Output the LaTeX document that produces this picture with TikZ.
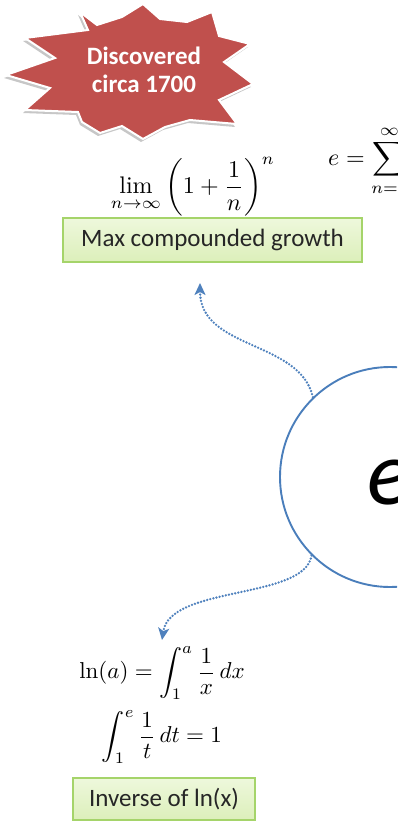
\documentclass[tikz,border=0pt]{standalone}
\usepackage{fontspec}
\usepackage{amsmath}
\usepackage{graphicx}
\newfontfamily\calibri{Carlito}
\usetikzlibrary{arrows.meta}

\definecolor{burstred}{HTML}{C0504D}
\definecolor{ringblue}{HTML}{4A7EBB}
\definecolor{dotblue}{HTML}{4F81BD}
\definecolor{tagtop}{HTML}{EEF8DC}
\definecolor{tagbottom}{HTML}{DCEFBA}
\definecolor{tagline}{HTML}{A5D46A}

\begin{document}
\begin{tikzpicture}[x=1pt,y=-1pt,
  tag/.style={draw=tagline, line width=1.2pt, top color=tagtop, bottom color=tagbottom,
    inner sep=0pt, text=black!85, font=\calibri\fontsize{25}{28}\selectfont},
  formula/.style={inner sep=0pt},
  link/.style={dotblue, line width=2.6pt, line cap=round, dash pattern=on 0pt off 3.2pt,
    -{Stealth[length=12pt,width=11pt,inset=3pt]}},
  burstpath/.style={line join=miter}
]
\useasboundingbox (0,0) rectangle (397,821);
\clip (0,0) rectangle (397,821);

% explosion badge: soft shadow, then the red burst with a white rim
\fill[black, opacity=0.22, xshift=-2pt, yshift=-3pt]
  (143,4) -- (160,19) -- (187,22) -- (212,12) -- (219,36) -- (250,44) -- (224,62)
  -- (253,84) -- (219,100) -- (237,124) -- (190,120) -- (165,127) -- (143,139)
  -- (122,126) -- (100,133) -- (82,122) -- (78,112) -- (25,110) -- (50,88)
  -- (6,75) -- (55,58) -- (25,38) -- (88,30) -- (80,12) -- (97,25) -- (122,17) -- cycle;
\draw[burstpath, draw=white, line width=2pt, fill=burstred]
  (143,4) -- (160,19) -- (187,22) -- (212,12) -- (219,36) -- (250,44) -- (224,62)
  -- (253,84) -- (219,100) -- (237,124) -- (190,120) -- (165,127) -- (143,139)
  -- (122,126) -- (100,133) -- (82,122) -- (78,112) -- (25,110) -- (50,88)
  -- (6,75) -- (55,58) -- (25,38) -- (88,30) -- (80,12) -- (97,25) -- (122,17) -- cycle;
\node[align=center, text=white, inner sep=0pt,
      font=\calibri\bfseries\fontsize{25}{28}\selectfont] (burst) at (144,70)
  {Discovered\\circa 1700};

% formulas and captions
\node[formula] (limit) at (193,187)
  {\scalebox{2.4}{$\displaystyle\lim_{n\to\infty}\left(1+\frac{1}{n}\right)^{n}$}};
\node[tag, minimum width=299pt, minimum height=44pt] (growth) at (212.5,240)
  {Max compounded growth};

\node[formula, anchor=west] (series) at (328,161)
  {\scalebox{2.4}{$\displaystyle e=\sum_{n=0}^{\infty}\frac{1}{n!}$}};

\node[formula] (lnint) at (162,673)
  {\scalebox{2.3}{$\displaystyle \ln(a)=\int_{1}^{a}\frac{1}{x}\,dx$}};
\node[formula] (unitint) at (162,737)
  {\scalebox{2.3}{$\displaystyle \int_{1}^{e}\frac{1}{t}\,dt=1$}};
\node[tag, minimum width=182pt, minimum height=42pt] (inverse) at (164,799)
  {Inverse of ln(x)};

% the central constant
\node[circle, draw=ringblue, line width=1.9pt, fill=white, minimum size=220pt,
      inner sep=0pt] (ec) at (390,477) {};
\node[inner sep=0pt, font=\calibri\itshape\fontsize{92}{92}\selectfont] (eletter)
  at (389,483) {e};

% dotted links out of the circle
\coordinate (tip1) at (200,283);
\coordinate (tip2) at (162,640);
\draw[link] (ec.134) .. controls (300,340) and (200,350) .. (tip1);
\draw[link] (ec.225) .. controls (305,600) and (170,585) .. (tip2);
\end{tikzpicture}
\end{document}
